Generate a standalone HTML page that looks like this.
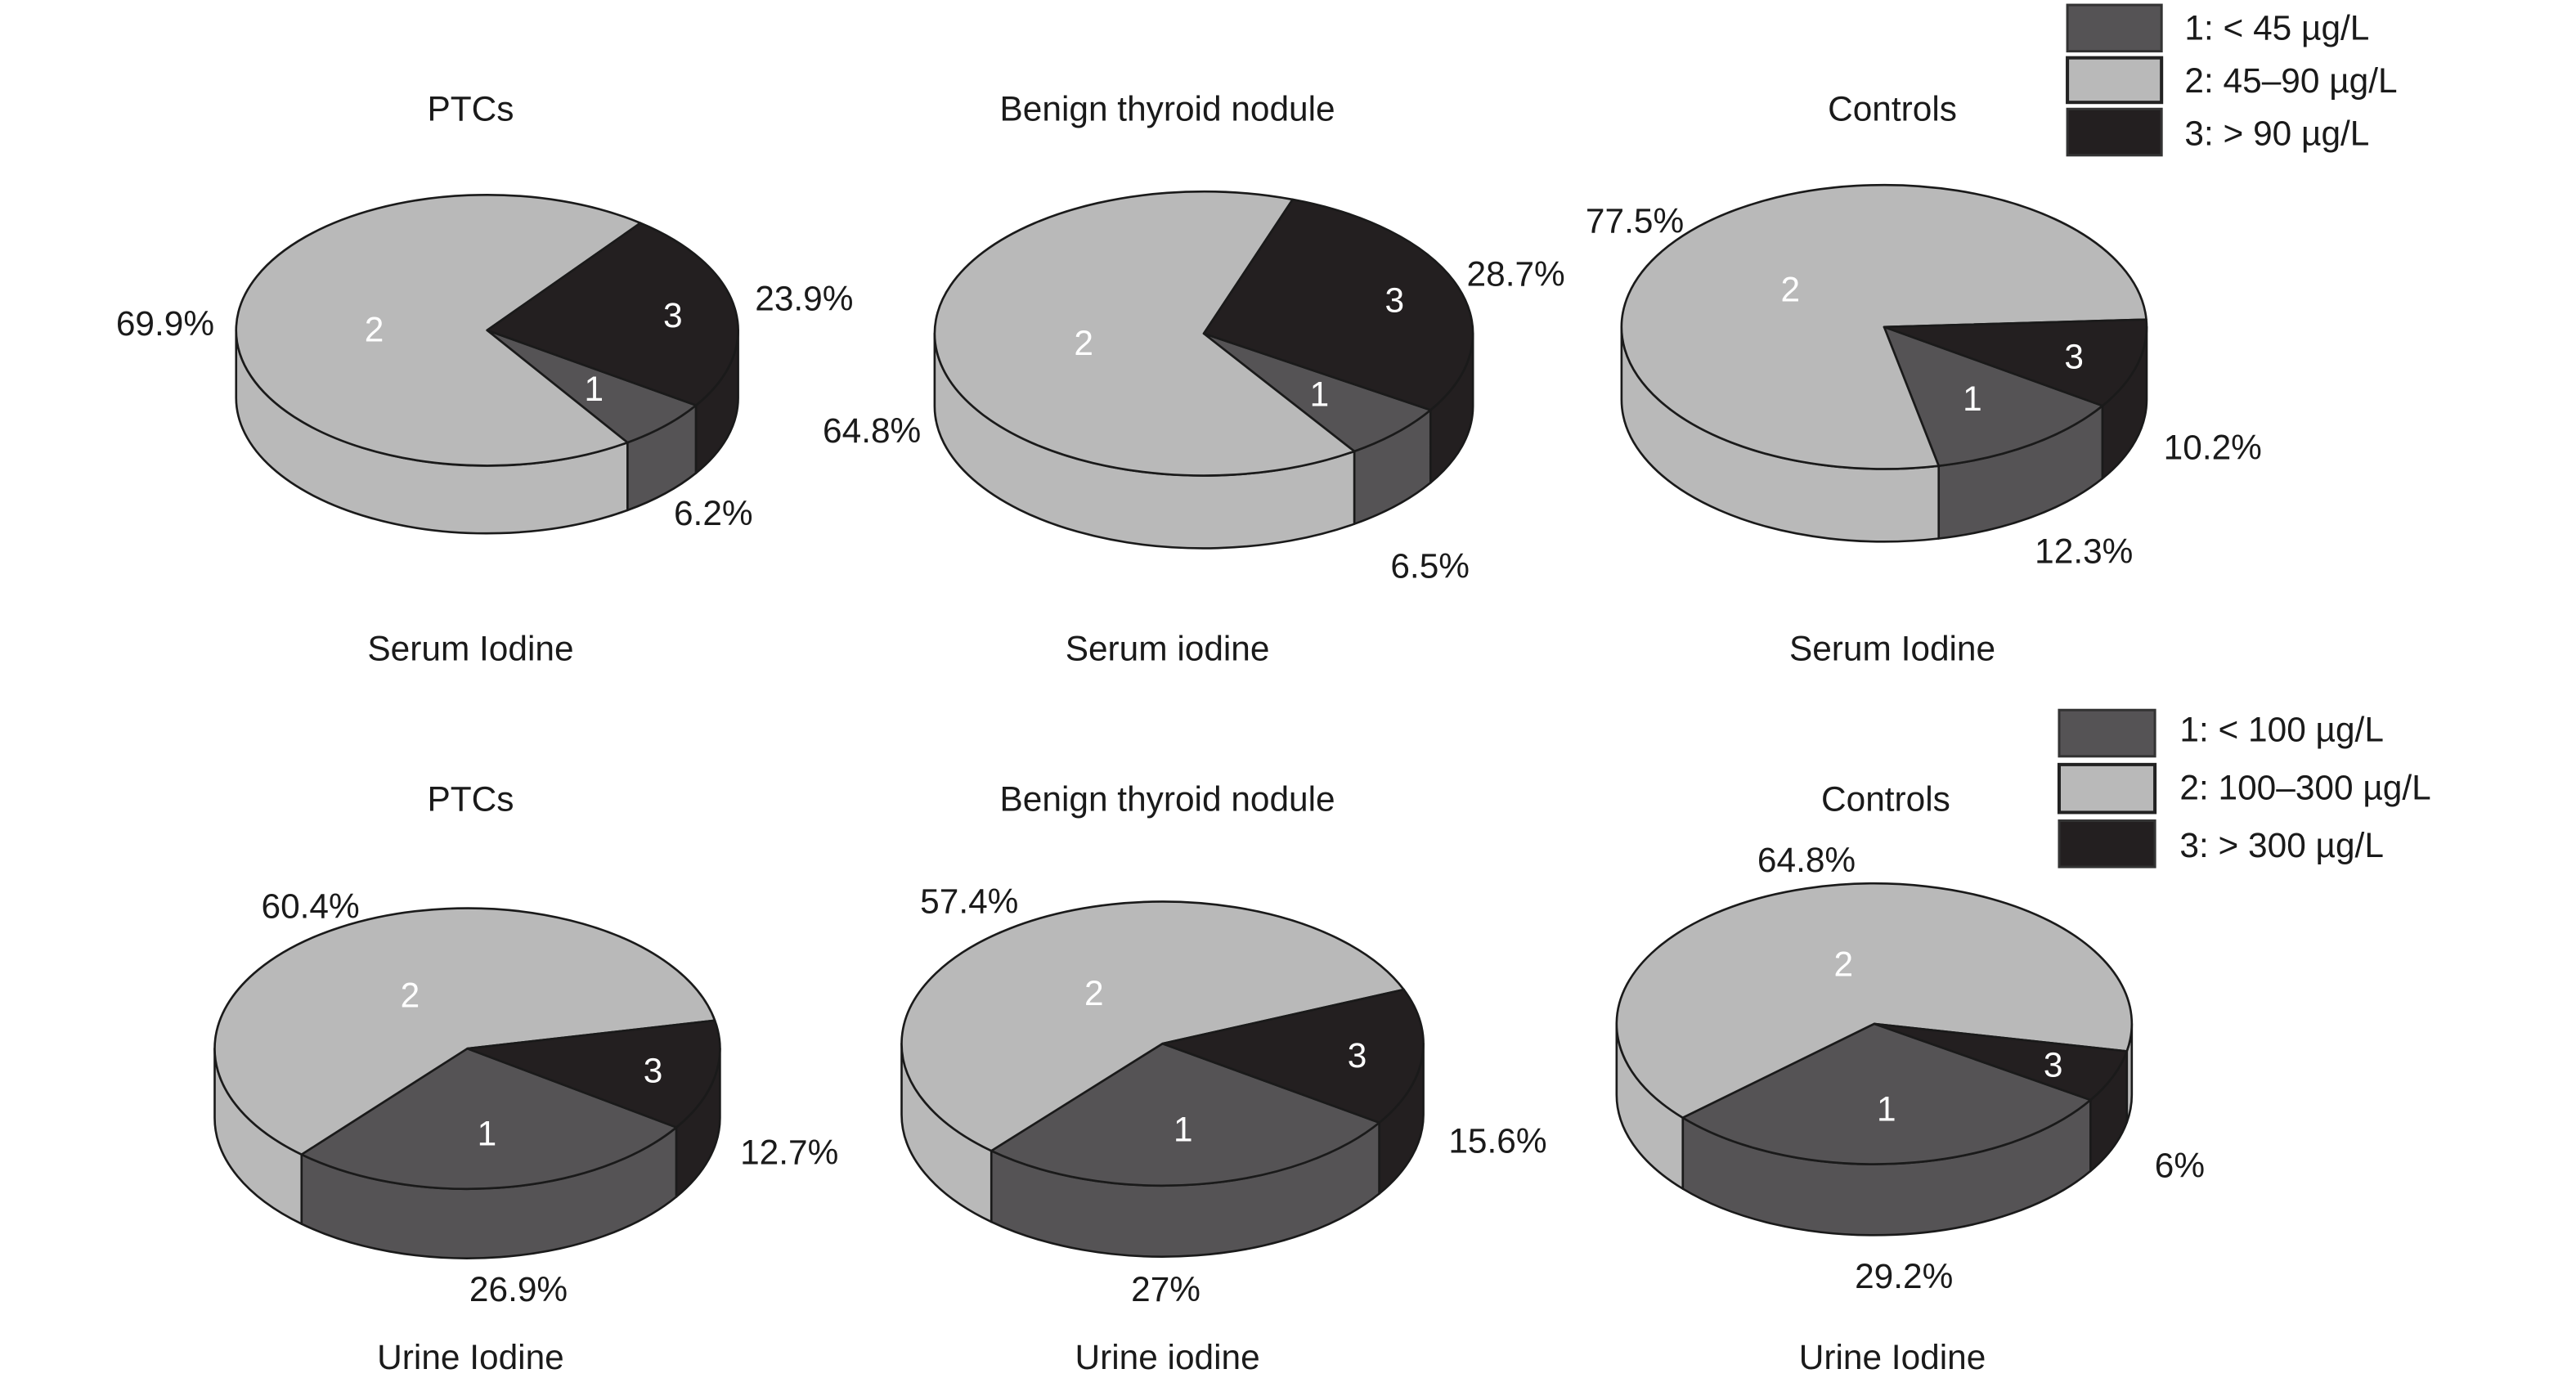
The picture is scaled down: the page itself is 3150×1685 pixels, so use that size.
<!DOCTYPE html>
<html><head><meta charset="utf-8"><style>
html,body{margin:0;padding:0;background:#fff;}
svg{display:block;}
text{font-family:"Liberation Sans",sans-serif;fill:#1a1a1a;}
</style></head><body>
<svg id="chart" width="3150" height="1685" viewBox="0 0 1560 834.5" preserveAspectRatio="none" xmlns="http://www.w3.org/2000/svg">
<g id="pies"></g>
<g id="texts" font-size="21" text-anchor="middle">
<text x="285" y="73">PTCs</text>
<text x="707" y="73">Benign thyroid nodule</text>
<text x="1146" y="73">Controls</text>
<text x="285" y="400">Serum Iodine</text>
<text x="707" y="400">Serum iodine</text>
<text x="1146" y="400">Serum Iodine</text>
<text x="285" y="491">PTCs</text>
<text x="707" y="491">Benign thyroid nodule</text>
<text x="1142" y="491">Controls</text>
<text x="285" y="829">Urine Iodine</text>
<text x="707" y="829">Urine iodine</text>
<text x="1146" y="829">Urine Iodine</text>
</g>
<g font-size="21">
<rect x="1252" y="3" width="57" height="28" fill="#555355" stroke="#333" stroke-width="1.5"/>
<rect x="1252" y="35" width="57" height="27" fill="#b9b9b9" stroke="#222" stroke-width="2"/>
<rect x="1252" y="66" width="57" height="28" fill="#231f20" stroke="#333" stroke-width="1.5"/>
<text x="1323" y="24">1: &lt; 45 µg/L</text>
<text x="1323" y="56">2: 45–90 µg/L</text>
<text x="1323" y="88">3: &gt; 90 µg/L</text>
</g>
<g font-size="21">
<rect x="1247" y="430" width="58" height="28" fill="#555355" stroke="#333" stroke-width="1.5"/>
<rect x="1247" y="463" width="58" height="29" fill="#b9b9b9" stroke="#222" stroke-width="2"/>
<rect x="1247" y="497" width="58" height="28" fill="#231f20" stroke="#333" stroke-width="1.5"/>
<text x="1320" y="449">1: &lt; 100 µg/L</text>
<text x="1320" y="484">2: 100–300 µg/L</text>
<text x="1320" y="519">3: &gt; 300 µg/L</text>
</g>
</svg>
<script>
// data: percentages per group (PTCs, Benign, Controls)
const groups = ["PTCs", "Benign thyroid nodule", "Controls"];
const serumP1 = [6.2, 6.5, 12.3];
const serumP2 = [69.9, 64.8, 77.5];
const serumP3 = [23.9, 28.7, 10.2];
const urineP1 = [26.9, 27, 29.2];
const urineP2 = [60.4, 57.4, 64.8];
const urineP3 = [12.7, 15.6, 6];
const serumLabels = ["6.2%", "6.5%", "12.3%"];
const serumLabels2 = ["69.9%", "64.8%", "77.5%"];
const serumLabels3 = ["23.9%", "28.7%", "10.2%"];
const urineLabels = ["26.9%", "27%", "29.2%"];
const urineLabels2 = ["60.4%", "57.4%", "64.8%"];
const urineLabels3 = ["12.7%", "15.6%", "6%"];

// layout (geometry only)
const NS = "http://www.w3.org/2000/svg";
const COL = {1: "#555355", 2: "#b9b9b9", 3: "#231f20"};
const serumGeo = [
  {cx:295, cy:200, rx:152, ry:82, d:41, a:56, l1:[432,318], l2:[100,203], l3:[487,188]},
  {cx:729, cy:202, rx:163, ry:86, d:44, a:56, l1:[866,350], l2:[528,268], l3:[918,173]},
  {cx:1141, cy:198, rx:159, ry:86, d:44, a:78, l1:[1262,341], l2:[990,141], l3:[1340,278]}
];
const urineGeo = [
  {cx:283, cy:635, rx:153, ry:85, d:42, a:131, l1:[314,788], l2:[188,556], l3:[478,705]},
  {cx:704, cy:632, rx:158, ry:86, d:43, a:131, l1:[706,788], l2:[587,553], l3:[907,698]},
  {cx:1135, cy:620, rx:156, ry:85, d:43, a:138, l1:[1153,780], l2:[1094,528], l3:[1320,713]}
];
const gPies = document.getElementById('pies');
const rad = t => t * Math.PI / 180;
function P(g, t, dy) { return [g.cx + g.rx * Math.cos(rad(t)), g.cy + (dy||0) + g.ry * Math.sin(rad(t))]; }
function f(p) { return p[0].toFixed(2) + "," + p[1].toFixed(2); }
function arc(g, lo, hi, sweep, dy) {
  const large = Math.abs(hi - lo) > 180 ? 1 : 0;
  return "A" + g.rx + "," + g.ry + " 0 " + large + "," + sweep + " " + f(P(g, sweep ? hi : lo, dy));
}
function mk(tag, attrs, parent) {
  const e = document.createElementNS(NS, tag);
  for (const k in attrs) e.setAttribute(k, attrs[k]);
  parent.appendChild(e);
  return e;
}
function drawPie(g, p1, p2, p3, labs, name) {
  const grp = mk('g', {}, gPies);
  
  
  const s1 = [g.a - 3.6 * p1, g.a];
  const s3 = [g.a - 3.6 * (p1 + p3), g.a - 3.6 * p1];
  const s2 = [g.a, g.a + 3.6 * p2];
  const slices = [[1, s1], [2, s2], [3, s3]];
  // side walls (visible front half: 0..180)
  slices.forEach(([k, r]) => {
    [-360, 0, 360].forEach(off => {
      const lo = Math.max(r[0] + off, 0), hi = Math.min(r[1] + off, 180);
      if (hi - lo > 0.01) {
        const d = "M" + f(P(g, lo)) + arc(g, lo, hi, 1) + "L" + f(P(g, hi, g.d)) + arc(g, lo, hi, 0, g.d) + "Z";
        const e = mk('path', {d: d, fill: COL[k], stroke: "#1a1a1a", "stroke-width": 1.3, "stroke-linejoin": "round"}, grp);
        
        
      }
    });
  });
  // top sectors
  slices.forEach(([k, r]) => {
    const d = "M" + g.cx + "," + g.cy + "L" + f(P(g, r[0])) + arc(g, r[0], r[1], 1) + "Z";
    const e = mk('path', {d: d, fill: COL[k], stroke: "#1a1a1a", "stroke-width": 1.3, "stroke-linejoin": "round"}, grp);
    
    
  });
  // interior numbers
  const fac = {1: 0.6, 2: 0.45, 3: 0.75};
  slices.forEach(([k, r]) => {
    const m = (r[0] + r[1]) / 2;
    const x = g.cx + fac[k] * g.rx * Math.cos(rad(m));
    const y = g.cy + fac[k] * g.ry * Math.sin(rad(m));
    const t = mk('text', {x: x.toFixed(1), y: (y + 8).toFixed(1), "font-size": 21, "text-anchor": "middle", style: "fill:#fff"}, grp);
    
    
    t.textContent = String(k);
  });
  // percent labels
  [[labs[0], g.l1, 1], [labs[1], g.l2, 2], [labs[2], g.l3, 3]].forEach(([txt, pos, k]) => {
    const t = mk('text', {x: pos[0], y: pos[1], "font-size": 21, "text-anchor": "middle"}, grp);
    
    
    t.textContent = txt;
  });
}
for (let i = 0; i < 3; i++) {
  drawPie(serumGeo[i], serumP1[i], serumP2[i], serumP3[i], [serumLabels[i], serumLabels2[i], serumLabels3[i]], 'serum-pie-' + i);
  drawPie(urineGeo[i], urineP1[i], urineP2[i], urineP3[i], [urineLabels[i], urineLabels2[i], urineLabels3[i]], 'urine-pie-' + i);
}
</script>
</body></html>
